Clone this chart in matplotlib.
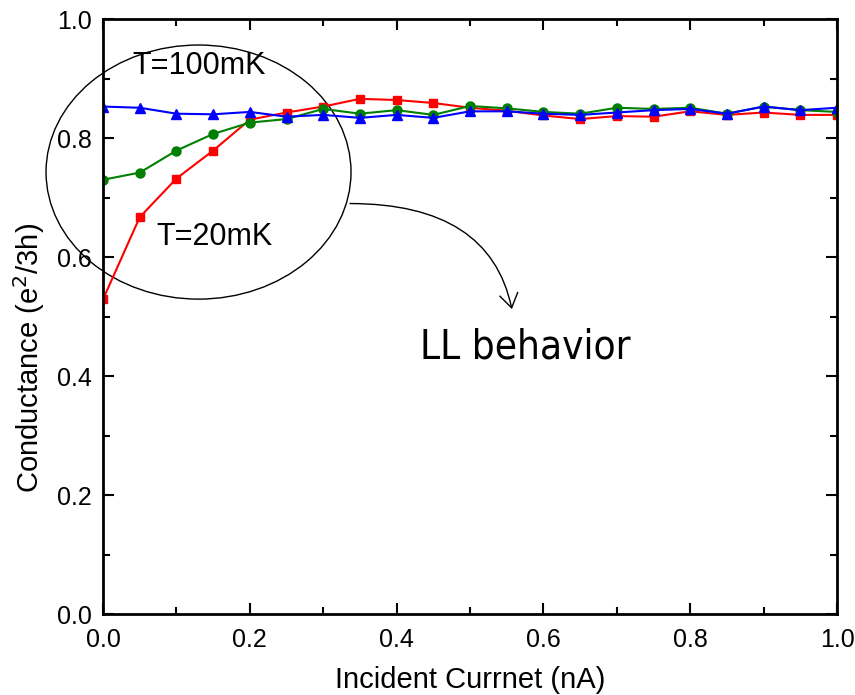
import matplotlib
matplotlib.use("Agg")
import matplotlib.pyplot as plt
from matplotlib.patches import Ellipse, FancyArrowPatch
from matplotlib.ticker import MultipleLocator

plt.rcParams['font.family'] = ['Liberation Sans', 'DejaVu Sans']

# === données ===
courant = [0.0, 0.05, 0.1, 0.15, 0.2, 0.25, 0.3, 0.35, 0.4, 0.45, 0.5,
           0.55, 0.6, 0.65, 0.7, 0.75, 0.8, 0.85, 0.9, 0.95, 1.0]

g_rouge = [0.529, 0.667, 0.732, 0.779, 0.831, 0.843, 0.853, 0.866, 0.864, 0.859, 0.851,
           0.846, 0.838, 0.832, 0.837, 0.836, 0.845, 0.839, 0.843, 0.839, 0.839]
g_vert = [0.730, 0.742, 0.779, 0.807, 0.826, 0.832, 0.849, 0.841, 0.847, 0.839, 0.854,
          0.850, 0.844, 0.841, 0.851, 0.849, 0.851, 0.841, 0.853, 0.847, 0.844]
g_bleu = [0.853, 0.851, 0.841, 0.840, 0.844, 0.836, 0.839, 0.834, 0.839, 0.834, 0.845,
          0.845, 0.841, 0.839, 0.843, 0.847, 0.849, 0.841, 0.853, 0.847, 0.851]

fig = plt.figure(figsize=(8.55, 6.95), dpi=100)
ax = fig.add_axes([0.1205, 0.1165, 0.8585, 0.856])

ax.plot(courant, g_rouge, color='#ff0000', marker='s', ms=5.5, lw=1.5)
ax.plot(courant, g_vert, color='#008000', marker='o', ms=6.5, lw=1.5)
ax.plot(courant, g_bleu, color='#0000ff', marker='^', ms=7.5, lw=1.5)

ax.set_xlim(0, 1.0)
ax.set_ylim(0, 1.0)
ax.xaxis.set_major_locator(MultipleLocator(0.2))
ax.xaxis.set_minor_locator(MultipleLocator(0.1))
ax.yaxis.set_major_locator(MultipleLocator(0.2))
ax.yaxis.set_minor_locator(MultipleLocator(0.1))
ax.tick_params(which='both', direction='in', top=True, right=True, width=1.5)
ax.tick_params(which='major', length=8, labelsize=18)
ax.tick_params(axis='x', which='major', pad=10)
ax.tick_params(axis='y', which='major', pad=8)
ax.tick_params(which='minor', length=5)
for s in ax.spines.values():
    s.set_linewidth(2)

ax.set_xlabel("Incident Currnet (nA)", fontsize=21)
ax.set_ylabel("Conductance (e$^2$/3h)", fontsize=21)
ax.xaxis.label.set_va('center')
ax.yaxis.label.set_va('center')
ax.xaxis.set_label_coords(0.5, -0.111)
ax.yaxis.set_label_coords(-0.101, 0.431)

# annotations
ellipse = Ellipse((0.1301, 0.7429), 0.4155, 0.4271, fill=False, ec='black',
                  lw=1.0, transform=ax.transData, clip_on=False)
ax.add_patch(ellipse)

ax.text(0.131, 0.922, "T=100mK", fontsize=22, ha='center', va='center')
ax.text(0.152, 0.634, "T=20mK", fontsize=22, ha='center', va='center')
ax.text(0.432, 0.4288, "LL behavior", fontsize=29, ha='left', va='baseline',
        family='DejaVu Sans', fontstretch='condensed')

fleche = FancyArrowPatch((0.3365, 0.690), (0.557, 0.5126),
                         connectionstyle="angle3,angleA=0,angleB=101.8",
                         arrowstyle="->,head_length=0.5,head_width=0.33",
                         mutation_scale=20, lw=1.0, color='black',
                         shrinkA=0, shrinkB=0, clip_on=False)
ax.add_patch(fleche)

plt.savefig("out.png", dpi=100)
